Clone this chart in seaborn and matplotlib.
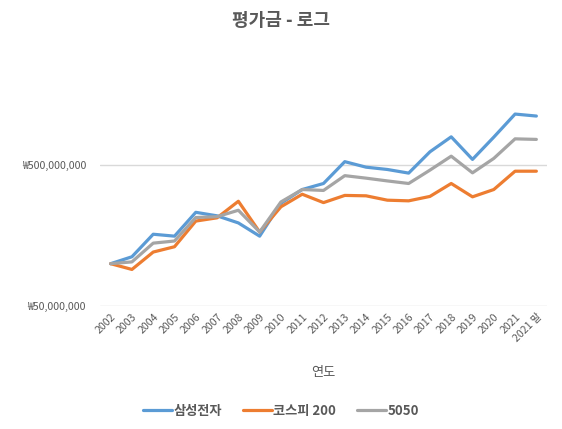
import matplotlib
matplotlib.use("Agg")
import matplotlib.pyplot as plt
import matplotlib.ticker as mticker
import seaborn as sns
import pandas as pd

years = ["2002", "2003", "2004", "2005", "2006", "2007", "2008", "2009", "2010", "2011",
         "2012", "2013", "2014", "2015", "2016", "2017", "2018", "2019", "2020", "2021", "2021 말"]
samsung = [100e6, 112e6, 162e6, 157e6, 232e6, 219e6, 195e6, 157e6, 269e6, 337e6,
           372e6, 532e6, 486e6, 468e6, 441e6, 625e6, 799e6, 552e6, 795e6, 1160e6, 1123e6]
kospi200 = [100e6, 91e6, 121e6, 132e6, 201e6, 212e6, 278e6, 168e6, 254e6, 312e6,
            272e6, 306e6, 304e6, 283e6, 280e6, 301e6, 372e6, 299e6, 337e6, 455e6, 455e6]
mix5050 = [100e6, 103e6, 140e6, 145e6, 213e6, 216e6, 240e6, 168e6, 275e6, 337e6,
           332e6, 423e6, 406e6, 388e6, 372e6, 463e6, 582e6, 443e6, 561e6, 773e6, 766e6]
series_names = ["삼성전자", "코스피 200", "5050"]
y_ticks = [50_000_000, 500_000_000]

sns.set_theme(style="white")
plt.rcParams["font.family"] = ["Noto Sans CJK KR", "DejaVu Sans"]

rows = []
for name, vals in zip(series_names, [samsung, kospi200, mix5050]):
    for i, v in enumerate(vals):
        rows.append({"pos": i, "연도": years[i], "value": v, "series": name})
df = pd.DataFrame(rows)

txt = "#595959"
fig = plt.figure(figsize=(5.62, 4.29), dpi=100)
ax = fig.add_axes([100 / 562, 1 - 306 / 429, 447 / 562, 266 / 429])

palette = {"삼성전자": "#5B9BD5", "코스피 200": "#ED7D31", "5050": "#A5A5A5"}
sns.lineplot(data=df, x="pos", y="value", hue="series", hue_order=series_names,
             palette=palette, linewidth=2.3, ax=ax, sort=False, legend=True)

ax.set_yscale("log")
ax.set_ylim(5e7, 5e8 * 10 ** (125.3 / 140.4))
ax.set_xlim(-0.5, len(years) - 0.5)
ax.yaxis.set_major_locator(mticker.FixedLocator(y_ticks))
ax.yaxis.set_minor_locator(mticker.NullLocator())
ax.yaxis.set_major_formatter(mticker.FuncFormatter(lambda v, p: "₩{:,.0f}".format(v)))
ax.set_xticks(range(len(years)))
ax.set_xticklabels(years, rotation=45, ha="right", rotation_mode="anchor")
ax.tick_params(axis="both", length=0, labelsize=7.6, labelcolor=txt, pad=4)
ax.tick_params(axis="y", pad=10)
ax.grid(axis="y", color="#D9D9D9", linewidth=1.0)
ax.grid(axis="x", visible=False)
for s in ax.spines.values():
    s.set_visible(False)

ax.set_ylabel("")
ax.set_xlabel("연도", fontsize=9.5, color=txt, labelpad=16)

fig.suptitle("평가금 - 로그", x=0.5, y=1 - 20 / 429, va="center", fontsize=13,
             fontweight="bold", color=txt)

handles, labels = ax.get_legend_handles_labels()
ax.get_legend().remove()
leg = fig.legend(handles, labels, loc="center", bbox_to_anchor=(0.5, 1 - 411 / 429),
                 ncol=3, frameon=False, handlelength=2.2, handletextpad=0.1,
                 columnspacing=1.6, prop={"size": 9.5, "weight": "bold"})
for t in leg.get_texts():
    t.set_color(txt)

fig.savefig("out.png", dpi=100)
